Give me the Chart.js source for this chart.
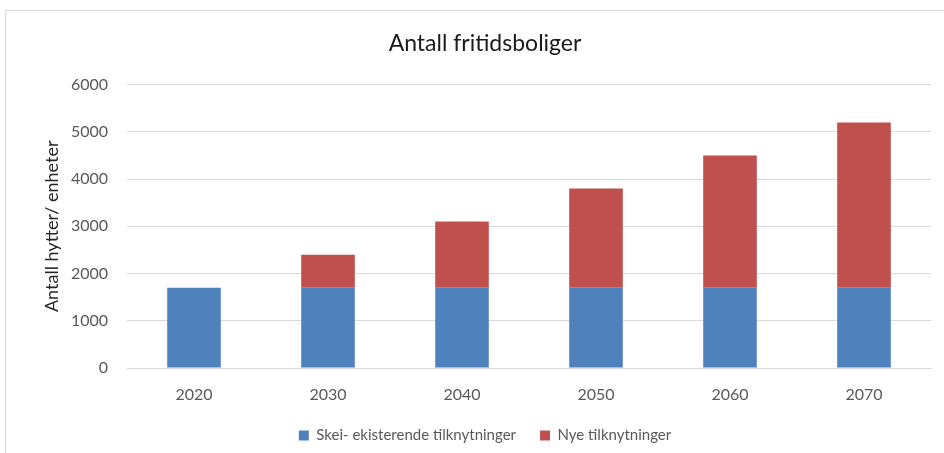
<!DOCTYPE html>
<html>
<head>
<meta charset="utf-8">
<script src="https://cdn.jsdelivr.net/npm/chart.js@4"></script>
<style>
    body { margin: 0; background: #fff; overflow: hidden; }
    #frame {
        position: absolute; left: 5px; top: 10px;
        width: 980px; height: 480px;
        border: 1px solid #d9d9d9;
    }
    #myChart { display: block; }
</style>
</head>
<body>
<div id="frame">
    <canvas id="myChart" width="958" height="460"></canvas>
</div>
<script>
// Chart data
var years = ["2020", "2030", "2040", "2050", "2060", "2070"];
var existing = [1700, 1700, 1700, 1700, 1700, 1700];
var newConnections = [0, 700, 1400, 2100, 2800, 3500];
var yTicks = [0, 1000, 2000, 3000, 4000, 5000, 6000];

var gray = "#595959";

Chart.defaults.font.family = "Lato, 'Open Sans', sans-serif";
Chart.defaults.color = gray;

var ctx = document.getElementById("myChart").getContext("2d");
var chart = new Chart(ctx, {
    type: "bar",
    data: {
        labels: years,
        datasets: [{
                label: "Skei- ekisterende tilknytninger",
                data: existing,
                backgroundColor: "#4f81bd",
            },
            {
                label: "Nye tilknytninger",
                data: newConnections,
                backgroundColor: "#c0504d",
            }
        ],
    },
    options: {
        responsive: false,
        animation: false,
        layout: {
            padding: { left: 33, right: 33, top: 0, bottom: 18 }
        },
        datasets: {
            bar: { categoryPercentage: 1, barPercentage: 0.4 }
        },
        scales: {
            x: {
                stacked: true,
                afterFit: function(scale) { scale.height = 36; },
                grid: { display: false, drawTicks: false },
                border: { display: true, color: "#d9d9d9", width: 1 },
                ticks: { padding: 17, font: { size: 16 }, color: gray }
            },
            y: {
                stacked: true,
                min: 0,
                max: 6000,
                afterBuildTicks: function(scale) {
                    scale.ticks = yTicks.map(function(v) { return { value: v }; });
                },
                afterFit: function(scale) { scale.width = 88; },
                grid: { color: "#d9d9d9", lineWidth: 1, drawTicks: false },
                border: { display: false },
                ticks: {
                    padding: 19,
                    font: { size: 16 },
                    color: gray,
                    callback: function(value) { return String(value); }
                },
                title: {
                    display: true,
                    text: "Antall hytter/ enheter",
                    font: { size: 18 },
                    color: "#262626",
                    padding: { top: 2, bottom: 0 }
                }
            }
        },
        plugins: {
            title: {
                display: true,
                text: "Antall fritidsboliger",
                font: { size: 23, weight: "normal" },
                color: "#1a1a1a",
                padding: { top: 19, bottom: 27 }
            },
            legend: {
                position: "bottom",
                labels: {
                    boxWidth: 10,
                    boxHeight: 10,
                    padding: 24,
                    font: { size: 15 },
                    color: gray
                }
            },
            tooltip: { enabled: false }
        }
    }
});
</script>
</body>
</html>
